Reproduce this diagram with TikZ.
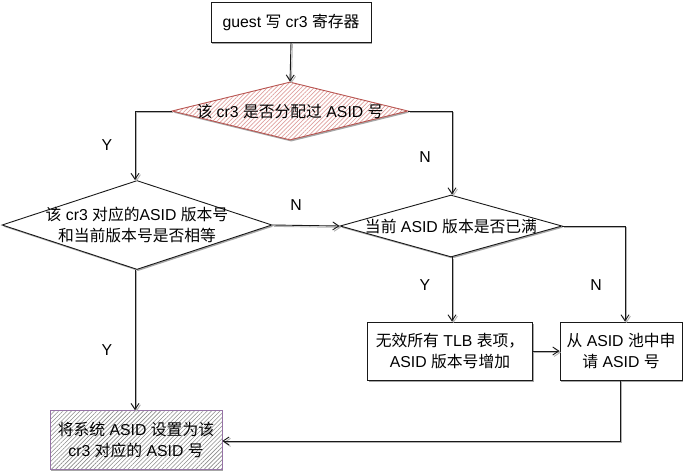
\documentclass[tikz,border=0pt]{standalone}
\usepackage{fontspec}
\setmainfont{Liberation Sans}
\newfontfamily\cjkfont{Noto Sans CJK SC}
\newcommand\zhtxt[1]{{\cjkfont #1}}
\usetikzlibrary{arrows.meta,shapes.geometric,patterns.meta,shadows}
\definecolor{redstroke}{HTML}{B85450}
\definecolor{redhatch}{HTML}{E0A09E}
\definecolor{purplestroke}{HTML}{9673A6}
\begin{document}
\begin{tikzpicture}[x=1pt,y=-1pt,
  every node/.style={font=\fontsize{15.8}{21}\selectfont},
  shad/.style={drop shadow={shadow xshift=1.2pt,shadow yshift=-1.6pt,fill=black!35,opacity=1}},
  box/.style={shad, draw=black!90, line width=0.9pt, fill=white, rectangle, inner sep=0pt, align=center},
  dia/.style={shad, draw=black!90, line width=0.9pt, fill=white, diamond, inner sep=0pt},
  txt/.style={align=center, inner sep=0pt},
  lbl/.style={inner sep=0pt},
  conn/.style={line width=0.9pt, draw=black!90,
     preaction={draw=black!30, line width=0.9pt, transform canvas={shift={(1.4pt,-1.4pt)}}},
     -{Straight Barb[length=6pt,width=8pt,line width=0.9pt]}},
  line/.style={line width=0.9pt, draw=black!90,
     preaction={draw=black!30, line width=0.9pt, transform canvas={shift={(1.4pt,-1.4pt)}}}}
]
\useasboundingbox (0,0) rectangle (683,474);

% nodes
\node[box, minimum width=160pt, minimum height=40pt] (b1) at (291,22) {guest \zhtxt{写} cr3 \zhtxt{寄存器}};

\node[dia, draw=redstroke, preaction={fill=white}, pattern={Lines[angle=45,distance=3pt,line width=0.7pt]}, pattern color=redhatch,
      minimum width=236pt, minimum height=58pt] (d1) at (290,111) {};
\node[txt] (t1) at (d1.center) {\zhtxt{该} cr3 \zhtxt{是否分配过} ASID \zhtxt{号}};

\node[dia, minimum width=270pt, minimum height=89pt] (d2) at (137,225) {};
\node[txt] (t2) at (d2.center) {\zhtxt{该} cr3 \zhtxt{对应的}ASID \zhtxt{版本号}\\\zhtxt{和当前版本号是否相等}};

\node[dia, minimum width=222pt, minimum height=62pt] (d3) at (451,226) {};
\node[txt] (t3) at (d3.center) {\zhtxt{当前} ASID \zhtxt{版本是否已满}};

\node[box, minimum width=165pt, minimum height=58pt] (b4) at (450,351) {\zhtxt{无效所有} TLB \zhtxt{表项，}\\ASID \zhtxt{版本号增加}};

\node[box, minimum width=122pt, minimum height=58pt] (b5) at (621,351) {\zhtxt{从} ASID \zhtxt{池中申}\\\zhtxt{请} ASID \zhtxt{号}};

\node[box, draw=purplestroke, preaction={fill=white}, pattern={Lines[angle=45,distance=3pt,line width=0.6pt]}, pattern color=black!45,
      minimum width=172pt, minimum height=59pt] (b6) at (136,440) {};
\node[txt] (t6) at (b6.center) {\zhtxt{将系统} ASID \zhtxt{设置为该}\\cr3 \zhtxt{对应的} ASID \zhtxt{号}};

% connectors
\coordinate (c1) at (135,111);
\coordinate (c2) at (452,111);
\coordinate (c3) at (625,226);
\coordinate (c4) at (620,441);

\draw[conn] (b1.south) -- (d1.north);
\draw[conn] (d1.west) -- (c1) -- (d2.north -| c1);
\draw[conn] (d1.east) -- (c2) -- (d3.north -| c2);
\draw[conn] (d2.east) -- (d3.west);
\draw[conn] (d2.south -| c1) -- (b6.north -| c1);
\draw[conn] (d3.south -| c2) -- (b4.north -| c2);
\draw[conn] (d3.east) -- (c3) -- (b5.north -| c3);
\draw[conn] (b4.east) -- (b5.west);
\draw[conn] (b5.south -| c4) -- (c4) -- (b6.east |- c4);

% labels
\node[lbl] (y1) at (107,145) {Y};
\node[lbl] (n1) at (425,157) {N};
\node[lbl] (n2) at (296,205) {N};
\node[lbl] (y2) at (107,350) {Y};
\node[lbl] (y3) at (425,285) {Y};
\node[lbl] (n3) at (596,285) {N};
\end{tikzpicture}
\end{document}
